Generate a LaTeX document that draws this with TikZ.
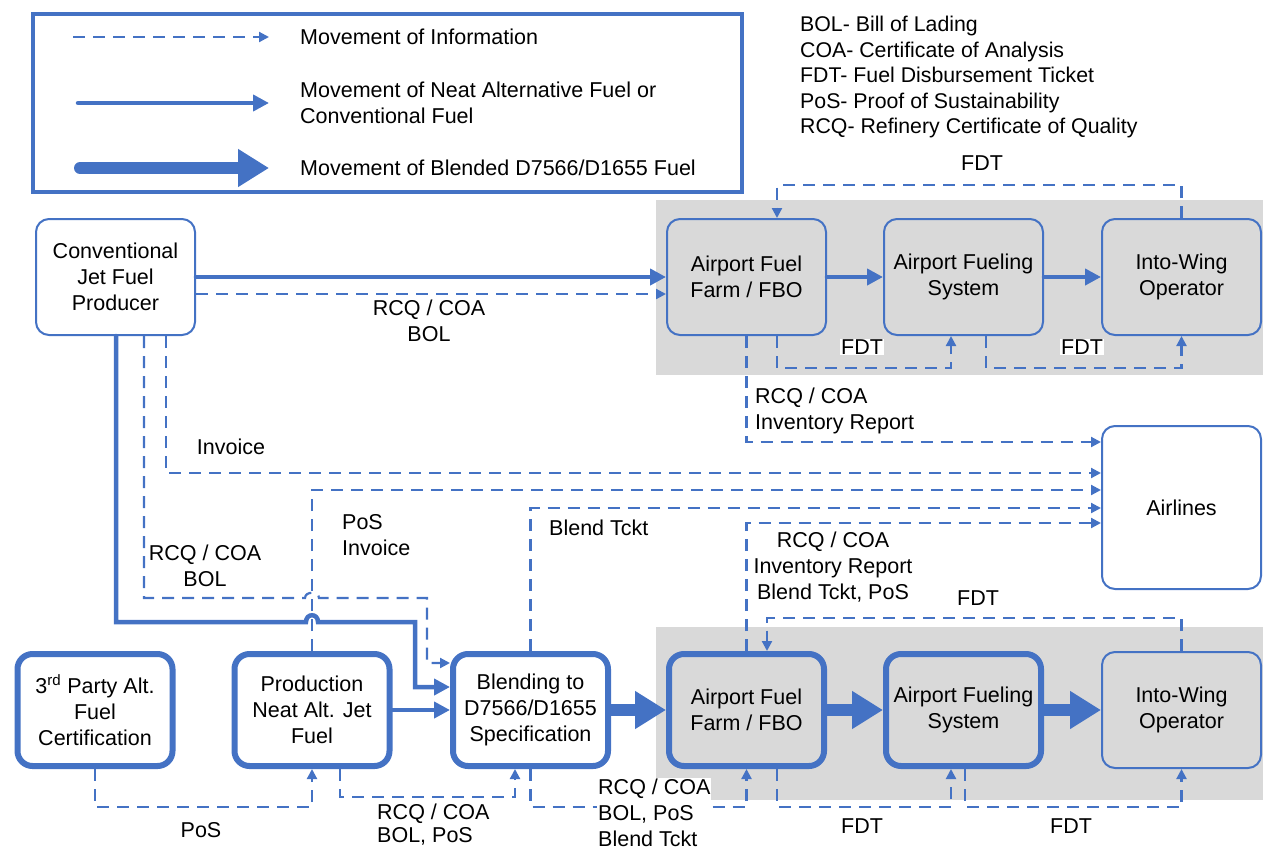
\documentclass[tikz,border=0pt]{standalone}
\usepackage{fontspec}
\setmainfont{Liberation Sans}
\usetikzlibrary{arrows.meta,positioning}
\definecolor{fuelblue}{RGB}{68,114,196}
\definecolor{bandgray}{RGB}{217,217,217}
\tikzset{
  box/.style={draw=fuelblue, line width=2pt, rounded corners=13pt, fill=white,
    minimum width=159pt, minimum height=116pt, align=center, inner sep=2pt},
  heavybox/.style={box, line width=6pt, rounded corners=15pt,
    minimum width=155pt, minimum height=112pt},
  info/.style={draw=fuelblue, line width=2.2pt, dash pattern=on 12pt off 8pt,
    -{Triangle[length=10pt,width=10pt]}},
  fuel/.style={draw=fuelblue, line width=4.5pt, line cap=round,
    -{Triangle[length=16pt,width=16pt]}},
  blended/.style={draw=fuelblue, line width=12pt, line cap=round,
    -{Triangle[length=31pt,width=36pt]}},
  lbl/.style={inner sep=1pt, align=center},
}

\begin{document}
\begin{tikzpicture}[x=1pt, y=-1pt, font=\fontsize{21.5}{26}\selectfont]
\useasboundingbox (0,0) rectangle (1263,849);

% shaded airport areas
\fill[bandgray] (656,200) rectangle (1263,375);
\fill[bandgray] (656,627) rectangle (1263,800);

% key
\draw[fuelblue, line width=4pt] (33,14) rectangle (742,192);
\coordinate (keyA) at (73,37);
\coordinate (keyAend) at (269,37);
\coordinate (keyB) at (78,103);
\coordinate (keyBend) at (269,103);
\coordinate (keyC) at (80,168);
\coordinate (keyCend) at (269,168);
\draw[info] (keyA) -- (keyAend);
\draw[fuel] (keyB) -- (keyBend);
\draw[blended] (keyC) -- (keyCend);
\node[anchor=west, inner sep=0pt] (keyinfo) at (300,37) {Movement of Information};
\node[anchor=west, align=left, inner sep=0pt] (keyneat) at (300,102.5)
  {Movement of Neat Alternative Fuel or\\Conventional Fuel};
\node[anchor=west, inner sep=0pt] (keyblend) at (300,168) {Movement of Blended D7566/D1655 Fuel};

\node[anchor=north west, align=left, inner sep=0pt,
  font=\fontsize{21.3}{25.5}\selectfont] (abbrev) at (800,16)
  {BOL- Bill of Lading\\COA- Certificate of Analysis\\FDT- Fuel Disbursement Ticket\\
   PoS- Proof of Sustainability\\RCQ- Refinery Certificate of Quality};

% boxes
\node[box] (prod) at (115.5,277) {Conventional\\Jet Fuel\\Producer};
\node[box, fill=bandgray] (farmA) at (746.5,277) {Airport Fuel\\Farm / FBO};
\node[box, fill=bandgray] (fuelsysA) at (963.5,277) {Airport Fueling\\System};
\node[box, fill=bandgray] (wingA) at (1181.5,277) {Into-Wing\\Operator};
\node[box, minimum height=163pt] (airlines) at (1181.5,507.5) {Airlines};
\node[heavybox] (cert) at (95,710) {3\textsuperscript{rd} Party Alt.\\Fuel\\Certification};
\node[heavybox] (neat) at (312,710) {Production\\Neat Alt. Jet\\Fuel};
\node[heavybox] (blend) at (530.5,710) {Blending to\\D7566/D1655\\Specification};
\node[heavybox, fill=bandgray] (farmB) at (746.5,710) {Airport Fuel\\Farm / FBO};
\node[heavybox, fill=bandgray] (fuelsysB) at (963.5,710) {Airport Fueling\\System};
\node[box, fill=bandgray] (wingB) at (1181.5,710) {Into-Wing\\Operator};

% conventional fuel path
\draw[fuel] (prod) -- (farmA);
\draw[info] (prod.east |- 0,294) -- (farmA.west |- 0,294);
\draw[fuel] (farmA) -- (fuelsysA);
\draw[fuel] (fuelsysA) -- (wingA);
\draw[info] (wingA.north) |- (777,185) -- (777,0 |- farmA.north);
\draw[info] (777,0 |- farmA.south) |- (951,368) -- (951,0 |- fuelsysA.south);
\draw[info] (986,0 |- fuelsysA.south) |- (1181.5,368) -- (wingA.south);
\draw[info] (farmA.south) |- (airlines.west |- 0,442);

\node[lbl] (fdtA) at (982,163) {FDT};
\node[lbl, fill=white] (fdtB) at (862,347) {FDT};
\node[lbl, fill=white] (fdtC) at (1082,347) {FDT};
\node[lbl] (rcqA) at (429,321) {RCQ / COA\\BOL};
\node[lbl, anchor=west, align=left] (rcqinv) at (754,410.5) {RCQ / COA\\Inventory Report};

% producer to blending and airlines
\draw[fuel] (116,0 |- prod.south) -- (116,622) -- (306,622)
  .. controls (306,613) and (318,613) .. (318,622) -- (415,622) |- (blend.west |- 0,687);
\draw[info] (144,0 |- prod.south) -- (144,598) -- (305,598)
  .. controls (305,591) and (319,591) .. (319,598) -- (427,598) |- (blend.west |- 0,663);
\draw[info] (166,0 |- prod.south) |- (airlines.west |- 0,473);
\draw[info] (neat.north) |- (airlines.west |- 0,490);
\draw[info] (blend.north) |- (airlines.west |- 0,508);
\draw[info] (farmB.north) |- (airlines.west |- 0,523);

\node[lbl] (invoice) at (231,447) {Invoice};
\node[lbl] (rcqB) at (205,566) {RCQ / COA\\BOL};
\node[lbl, anchor=west, align=left] (posinv) at (341,535.5) {PoS\\Invoice};
\node[lbl, anchor=west] (blendtckt) at (548,528) {Blend Tckt};
\node[lbl] (rcqinvB) at (833,567.5) {RCQ / COA\\Inventory Report\\Blend Tckt, PoS};

% blended fuel path
\draw[fuel] (neat) -- (blend);
\draw[blended] (blend) -- (farmB);
\draw[blended] (farmB) -- (fuelsysB);
\draw[blended] (fuelsysB) -- (wingB);
\draw[info] (wingB.north) |- (767,618) -- (767,0 |- farmB.north);
\draw[info] (777,0 |- farmB.south) |- (951,807) -- (951,0 |- fuelsysB.south);
\draw[info] (965,0 |- fuelsysB.south) |- (1181.5,807) -- (wingB.south);
\draw[info] (cert.south) |- (312,807) -- (neat.south);
\draw[info] (340,0 |- neat.south) |- (515,797) -- (515,0 |- blend.south);
\draw[info] (blend.south) |- (746.5,807) -- (farmB.south);

\node[lbl] (fdtD) at (978,598) {FDT};
\node[lbl] (fdtE) at (862,826) {FDT};
\node[lbl] (fdtF) at (1071,826) {FDT};
\node[lbl] (posB) at (201,830) {PoS};
\node[lbl, anchor=west, align=left, font=\fontsize{21.5}{23}\selectfont] (rcqC) at (376,825) {RCQ / COA\\BOL, PoS};
\node[lbl, anchor=west, align=left, fill=white] (rcqD) at (597,813) {RCQ / COA\\BOL, PoS\\Blend Tckt};
\end{tikzpicture}
\end{document}
